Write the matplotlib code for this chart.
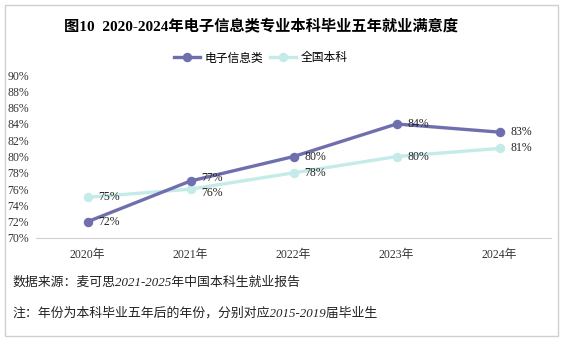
import matplotlib
matplotlib.use("Agg")
import matplotlib.pyplot as plt
from matplotlib.patches import Rectangle

plt.rcParams["font.family"] = ["Liberation Serif", "Noto Sans CJK SC"]

years = ["2020年", "2021年", "2022年", "2023年", "2024年"]
dianzi = [72, 77, 80, 84, 83]
quanguo = [75, 76, 78, 80, 81]
yticks = [70, 72, 74, 76, 78, 80, 82, 84, 86, 88, 90]

PURPLE = "#6f6fae"
TEAL = "#c4ebe8"

fig = plt.figure(figsize=(5.61, 3.40), dpi=100)
ax = fig.add_axes([36 / 561, 0.30, 515 / 561, 0.479])

x = list(range(len(years)))
ax.plot(x, dianzi, color=PURPLE, lw=2.4, marker="o", ms=5.8, label="电子信息类", zorder=3)
ax.plot(x, quanguo, color=TEAL, lw=2.4, marker="o", ms=5.8, label="全国本科", zorder=2)

# 2021 的两个标签挨得太近，上下各挪一点
for xi, (a, b) in enumerate(zip(dianzi, quanguo)):
    dy = 2.5 if abs(a - b) <= 1 else 0
    up, down = (dy, -dy) if a >= b else (-dy, dy)
    ax.annotate(f"{a}%", (xi, a), xytext=(8, up), textcoords="offset points",
                va="center", ha="left", fontsize=8.5, color="#222222")
    ax.annotate(f"{b}%", (xi, b), xytext=(8, down), textcoords="offset points",
                va="center", ha="left", fontsize=8.5, color="#222222")

ax.set_xlim(-0.5, 4.5)
ax.set_ylim(70, 90)
ax.set_xticks(x)
ax.set_xticklabels(years, fontsize=8.5, color="#333333")
ax.set_yticks(yticks)
ax.set_yticklabels([f"{t}%" for t in yticks], fontsize=8.5, color="#333333")
ax.tick_params(length=0)
ax.tick_params(axis="x", pad=8)
ax.tick_params(axis="y", pad=5)
for s in ["top", "right", "left"]:
    ax.spines[s].set_visible(False)
ax.spines["bottom"].set_color("#d0d0d0")

fig.text(261 / 561, 1 - 27 / 340, "图10  2020-2024年电子信息类专业本科毕业五年就业满意度",
         ha="center", va="center", fontsize=11, fontweight="bold")
fig.legend(loc="center", bbox_to_anchor=(261 / 561, 1 - 58 / 340), ncol=2, frameon=False,
           handlelength=2.2, columnspacing=0.6, handletextpad=0.4,
           prop={"family": ["Noto Sans CJK SC"], "size": 8.5})

fig.text(12 / 561, 1 - 283 / 340, "数据来源：麦可思2021-2025年中国本科生就业报告",
         ha="left", va="center", fontsize=9.3, style="italic", color="#222222")
fig.text(12 / 561, 1 - 313 / 340, "注：年份为本科毕业五年后的年份，分别对应2015-2019届毕业生",
         ha="left", va="center", fontsize=9.3, style="italic", color="#222222")

fig.patches.append(Rectangle((5 / 561, 4 / 340), 553 / 561, 331 / 340,
                             transform=fig.transFigure, fill=False,
                             edgecolor="#d0d0d0", lw=1))

fig.savefig("out.png", dpi=100)
